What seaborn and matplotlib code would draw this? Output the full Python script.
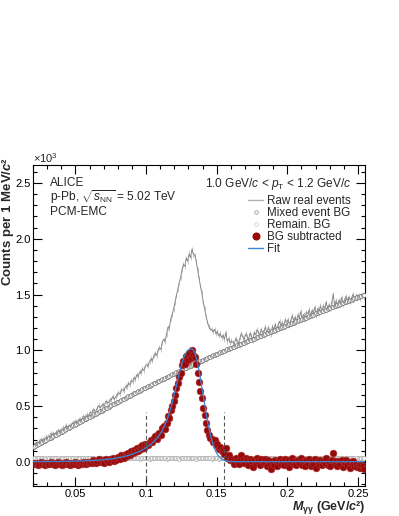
import numpy as np
import matplotlib
matplotlib.use("Agg")
import matplotlib.pyplot as plt
import seaborn as sns
from matplotlib.lines import Line2D
from matplotlib.ticker import MultipleLocator, FuncFormatter

# 1 MeV wide invariant-mass bins from 0.020 to 0.255 GeV/c^2
M_LO, BIN_W, N_BINS = 0.020, 0.001, 235
mass = M_LO + BIN_W * (np.arange(N_BINS) + 0.5)

# all yields in units of 10^3 counts per MeV/c^2
raw_counts = [
    0.159, 0.158, 0.177, 0.166, 0.183, 0.202, 0.194, 0.209, 0.197, 0.226,
    0.225, 0.224, 0.254, 0.243, 0.257, 0.249, 0.268, 0.282, 0.274, 0.287,
    0.279, 0.306, 0.305, 0.326, 0.312, 0.328, 0.317, 0.345, 0.343, 0.365,
    0.359, 0.357, 0.381, 0.383, 0.381, 0.411, 0.404, 0.404, 0.424, 0.421,
    0.444, 0.439, 0.469, 0.462, 0.455, 0.484, 0.505, 0.484, 0.502, 0.519,
    0.501, 0.544, 0.533, 0.530, 0.560, 0.557, 0.588, 0.562, 0.583, 0.603,
    0.619, 0.611, 0.647, 0.646, 0.639, 0.679, 0.672, 0.706, 0.691, 0.729,
    0.718, 0.757, 0.741, 0.782, 0.767, 0.808, 0.798, 0.836, 0.821, 0.860,
    0.871, 0.860, 0.900, 0.924, 0.907, 0.952, 0.975, 0.954, 1.003, 1.024,
    1.008, 1.074, 1.098, 1.082, 1.144, 1.208, 1.197, 1.281, 1.322, 1.368,
    1.429, 1.495, 1.546, 1.607, 1.653, 1.724, 1.770, 1.751, 1.827, 1.798,
    1.864, 1.830, 1.906, 1.862, 1.853, 1.798, 1.724, 1.645, 1.576, 1.517,
    1.428, 1.373, 1.304, 1.254, 1.210, 1.191, 1.186, 1.167, 1.187, 1.148,
    1.169, 1.129, 1.149, 1.115, 1.135, 1.100, 1.160, 1.081, 1.106, 1.066,
    1.086, 1.072, 1.052, 1.107, 1.082, 1.062, 1.112, 1.153, 1.118, 1.093,
    1.148, 1.128, 1.088, 1.153, 1.134, 1.089, 1.159, 1.139, 1.184, 1.164,
    1.134, 1.189, 1.159, 1.174, 1.210, 1.150, 1.205, 1.180, 1.140, 1.215,
    1.185, 1.235, 1.180, 1.230, 1.261, 1.216, 1.251, 1.216, 1.276, 1.251,
    1.276, 1.221, 1.271, 1.311, 1.267, 1.297, 1.262, 1.317, 1.292, 1.347,
    1.287, 1.322, 1.282, 1.342, 1.328, 1.363, 1.308, 1.358, 1.338, 1.388,
    1.313, 1.373, 1.353, 1.398, 1.353, 1.398, 1.383, 1.433, 1.378, 1.408,
    1.373, 1.433, 1.503, 1.408, 1.443, 1.403, 1.448, 1.433, 1.473, 1.413,
    1.453, 1.483, 1.443, 1.478, 1.433, 1.468, 1.503, 1.463, 1.488, 1.463,
    1.488, 1.463, 1.493, 1.488, 1.473,
]
mixed_bg = [
    0.138, 0.145, 0.152, 0.158, 0.165, 0.172, 0.179, 0.186, 0.192, 0.199,
    0.206, 0.213, 0.219, 0.226, 0.233, 0.240, 0.246, 0.253, 0.260, 0.267,
    0.273, 0.280, 0.287, 0.293, 0.300, 0.307, 0.314, 0.320, 0.327, 0.334,
    0.340, 0.347, 0.354, 0.361, 0.367, 0.374, 0.381, 0.387, 0.394, 0.401,
    0.407, 0.414, 0.421, 0.428, 0.434, 0.441, 0.448, 0.454, 0.461, 0.468,
    0.474, 0.481, 0.488, 0.495, 0.501, 0.508, 0.515, 0.521, 0.528, 0.535,
    0.541, 0.548, 0.554, 0.561, 0.568, 0.574, 0.581, 0.588, 0.594, 0.601,
    0.607, 0.614, 0.620, 0.627, 0.634, 0.640, 0.647, 0.653, 0.660, 0.667,
    0.673, 0.679, 0.685, 0.691, 0.698, 0.704, 0.710, 0.716, 0.722, 0.729,
    0.735, 0.741, 0.747, 0.753, 0.759, 0.765, 0.772, 0.778, 0.784, 0.790,
    0.796, 0.802, 0.808, 0.814, 0.820, 0.826, 0.832, 0.838, 0.844, 0.850,
    0.856, 0.862, 0.868, 0.874, 0.880, 0.885, 0.891, 0.897, 0.903, 0.909,
    0.915, 0.920, 0.926, 0.931, 0.937, 0.943, 0.948, 0.954, 0.959, 0.965,
    0.971, 0.976, 0.981, 0.987, 0.992, 0.997, 1.002, 1.008, 1.013, 1.018,
    1.023, 1.029, 1.034, 1.039, 1.044, 1.049, 1.054, 1.060, 1.065, 1.070,
    1.075, 1.080, 1.085, 1.090, 1.096, 1.101, 1.106, 1.111, 1.116, 1.121,
    1.126, 1.131, 1.136, 1.141, 1.147, 1.152, 1.157, 1.162, 1.167, 1.172,
    1.177, 1.182, 1.187, 1.192, 1.198, 1.203, 1.208, 1.213, 1.218, 1.223,
    1.228, 1.233, 1.238, 1.243, 1.249, 1.254, 1.259, 1.264, 1.269, 1.274,
    1.279, 1.284, 1.289, 1.294, 1.300, 1.305, 1.310, 1.315, 1.320, 1.325,
    1.330, 1.335, 1.340, 1.345, 1.350, 1.355, 1.360, 1.365, 1.370, 1.375,
    1.380, 1.385, 1.390, 1.395, 1.400, 1.405, 1.410, 1.415, 1.420, 1.425,
    1.430, 1.435, 1.440, 1.445, 1.450, 1.455, 1.460, 1.465, 1.470, 1.475,
    1.480, 1.485, 1.490, 1.495, 1.500,
]
remain_bg = [
    0.033, 0.034, 0.032, 0.033, 0.035, 0.033, 0.032, 0.034, 0.033, 0.031,
    0.034, 0.033, 0.032, 0.035, 0.033, 0.034, 0.032, 0.033, 0.031, 0.034,
    0.033, 0.035, 0.032, 0.033, 0.034, 0.031, 0.033, 0.034, 0.032, 0.033,
    0.032, 0.034, 0.033, 0.035, 0.032, 0.033, 0.034, 0.031, 0.033, 0.034,
    0.033, 0.032, 0.034, 0.033, 0.031, 0.035, 0.033, 0.032, 0.034, 0.033,
    0.034, 0.033, 0.035, 0.032, 0.033, 0.031, 0.034, 0.033, 0.032, 0.035,
    0.033, 0.031, 0.034, 0.032, 0.033, 0.035, 0.034, 0.033, 0.032, 0.033,
    0.035, 0.033, 0.032, 0.034, 0.033, 0.031, 0.033, 0.034, 0.033, 0.032,
    0.033, 0.034, 0.031, 0.033, 0.035, 0.032, 0.033, 0.034, 0.032, 0.033,
    0.032, 0.033, 0.034, 0.033, 0.031, 0.034, 0.035, 0.033, 0.032, 0.034,
    0.034, 0.032, 0.033, 0.031, 0.033, 0.034, 0.032, 0.035, 0.033, 0.033,
    0.033, 0.035, 0.034, 0.032, 0.033, 0.031, 0.034, 0.033, 0.032, 0.034,
    0.032, 0.033, 0.035, 0.033, 0.034, 0.032, 0.031, 0.033, 0.034, 0.033,
    0.034, 0.031, 0.033, 0.032, 0.035, 0.033, 0.034, 0.032, 0.033, 0.034,
    0.033, 0.034, 0.032, 0.033, 0.031, 0.034, 0.033, 0.035, 0.032, 0.033,
    0.031, 0.033, 0.034, 0.032, 0.033, 0.035, 0.033, 0.032, 0.034, 0.033,
    0.034, 0.032, 0.033, 0.035, 0.031, 0.033, 0.034, 0.033, 0.032, 0.034,
    0.033, 0.034, 0.031, 0.033, 0.032, 0.034, 0.035, 0.032, 0.033, 0.034,
    0.032, 0.033, 0.034, 0.031, 0.033, 0.035, 0.033, 0.032, 0.034, 0.033,
    0.035, 0.032, 0.033, 0.034, 0.033, 0.031, 0.034, 0.033, 0.032, 0.033,
    0.033, 0.034, 0.032, 0.033, 0.035, 0.032, 0.033, 0.031, 0.034, 0.033,
    0.034, 0.033, 0.032, 0.034, 0.031, 0.033, 0.035, 0.033, 0.032, 0.034,
    0.032, 0.033, 0.034, 0.033, 0.035, 0.032, 0.034, 0.033, 0.031, 0.033,
    0.034, 0.032, 0.033, 0.034, 0.033,
]
bg_subtracted = [
    -0.012, -0.020, -0.008, -0.025, -0.015, -0.003, -0.018, -0.010, -0.028, -0.006,
    -0.014, -0.022, 0.002, -0.016, -0.009, -0.024, -0.011, -0.004, -0.019, -0.013,
    -0.027, -0.007, -0.015, 0.000, -0.021, -0.012, -0.030, -0.008, -0.017, -0.002,
    -0.014, -0.023, -0.006, -0.011, -0.019, 0.004, -0.010, -0.016, -0.003, -0.013,
    0.004, -0.008, 0.015, 0.001, -0.012, 0.010, 0.024, -0.003, 0.008, 0.018,
    -0.006, 0.030, 0.012, 0.002, 0.026, 0.016, 0.040, 0.008, 0.022, 0.035,
    0.045, 0.030, 0.060, 0.052, 0.038, 0.072, 0.058, 0.085, 0.064, 0.095,
    0.078, 0.110, 0.088, 0.122, 0.100, 0.135, 0.118, 0.150, 0.128, 0.160,
    0.165, 0.148, 0.182, 0.200, 0.176, 0.215, 0.232, 0.205, 0.248, 0.262,
    0.240, 0.300, 0.318, 0.296, 0.352, 0.410, 0.392, 0.470, 0.505, 0.545,
    0.600, 0.660, 0.705, 0.760, 0.800, 0.865, 0.905, 0.880, 0.950, 0.915,
    0.975, 0.935, 1.005, 0.955, 0.940, 0.880, 0.800, 0.715, 0.640, 0.575,
    0.480, 0.420, 0.345, 0.290, 0.240, 0.215, 0.205, 0.180, 0.195, 0.150,
    0.165, 0.120, 0.135, 0.095, 0.110, 0.070, 0.125, 0.040, 0.060, 0.015,
    0.030, 0.010, -0.015, 0.035, 0.005, -0.020, 0.025, 0.060, 0.020, -0.010,
    0.040, 0.015, -0.030, 0.030, 0.005, -0.045, 0.020, -0.005, 0.035, 0.010,
    -0.025, 0.025, -0.010, 0.000, 0.030, -0.035, 0.015, -0.015, -0.060, 0.010,
    -0.025, 0.020, -0.040, 0.005, 0.030, -0.020, 0.010, -0.030, 0.025, -0.005,
    0.015, -0.045, 0.000, 0.035, -0.015, 0.010, -0.030, 0.020, -0.010, 0.040,
    -0.025, 0.005, -0.040, 0.015, -0.005, 0.025, -0.035, 0.010, -0.015, 0.030,
    -0.050, 0.005, -0.020, 0.020, -0.030, 0.010, -0.010, 0.035, -0.025, 0.000,
    -0.040, 0.015, 0.080, -0.020, 0.010, -0.035, 0.005, -0.015, 0.020, -0.045,
    -0.010, 0.015, -0.030, 0.000, -0.050, -0.020, 0.010, -0.035, -0.015, -0.045,
    -0.025, -0.055, -0.030, -0.040, -0.060,
]
fit_curve = [
    0.004, 0.004, 0.004, 0.004, 0.004, 0.004, 0.004, 0.004, 0.004, 0.004,
    0.005, 0.005, 0.005, 0.005, 0.005, 0.005, 0.005, 0.005, 0.005, 0.006,
    0.006, 0.006, 0.006, 0.006, 0.006, 0.007, 0.007, 0.007, 0.008, 0.008,
    0.008, 0.009, 0.009, 0.009, 0.010, 0.010, 0.011, 0.011, 0.012, 0.012,
    0.013, 0.013, 0.014, 0.015, 0.016, 0.016, 0.017, 0.018, 0.019, 0.020,
    0.022, 0.023, 0.024, 0.026, 0.027, 0.029, 0.030, 0.032, 0.034, 0.036,
    0.038, 0.041, 0.043, 0.046, 0.049, 0.052, 0.055, 0.058, 0.062, 0.066,
    0.070, 0.075, 0.080, 0.085, 0.090, 0.096, 0.102, 0.109, 0.116, 0.123,
    0.131, 0.140, 0.149, 0.159, 0.170, 0.182, 0.195, 0.209, 0.224, 0.241,
    0.260, 0.282, 0.306, 0.334, 0.364, 0.399, 0.438, 0.481, 0.528, 0.578,
    0.630, 0.685, 0.740, 0.793, 0.843, 0.889, 0.928, 0.960, 0.984, 1.000,
    1.009, 1.012, 1.013, 1.005, 0.979, 0.939, 0.886, 0.821, 0.749, 0.671,
    0.592, 0.513, 0.438, 0.367, 0.303, 0.246, 0.196, 0.155, 0.120, 0.091,
    0.069, 0.051, 0.038, 0.028, 0.020, 0.015, 0.011, 0.008, 0.006, 0.005,
    0.004, 0.004, 0.003, 0.003, 0.003, 0.003, 0.003, 0.003, 0.003, 0.003,
] + [0.003] * 85

RAW_ERR = 0.022      # stat. error of the raw distribution
REMAIN_ERR = 0.010
INT_WINDOW = [0.100, 0.155]   # integration window (dashed lines)
WINDOW_TOP = 0.45

W, H = 399, 516
sns.set_theme(style="ticks")
plt.rcParams["font.family"] = ["Liberation Sans", "DejaVu Sans"]
plt.rcParams["mathtext.fontset"] = "custom"
plt.rcParams["mathtext.rm"] = "Liberation Sans"
plt.rcParams["mathtext.it"] = "Liberation Sans:italic"
plt.rcParams["mathtext.bf"] = "Liberation Sans:bold"
try:
    plt.rcParams["mathtext.bfit"] = "Liberation Sans:bold:italic"
    BFIT = True
except KeyError:
    BFIT = False


def fpos(x, y):
    return x / W, 1 - y / H


fig = plt.figure(figsize=(W / 100, H / 100), dpi=100)
ax = fig.add_axes([33 / W, 30 / H, 332 / W, 321 / H])

gray_raw = "#8a8a8a"
ax.errorbar(mass, raw_counts, yerr=RAW_ERR, fmt="none", ecolor="#c4c4c4",
            elinewidth=0.7, zorder=1)
sns.lineplot(x=mass, y=raw_counts, color=gray_raw, lw=0.7, ax=ax,
             estimator=None, sort=False, zorder=2)

ax.errorbar(mass, remain_bg, yerr=REMAIN_ERR, fmt="none", ecolor="#cfcfcf",
            elinewidth=0.8, zorder=2)
ax.plot(mass, remain_bg, ls="none", marker="o", ms=2.8, mfc="white",
        mec="#acacac", mew=0.5, zorder=3)
ax.plot(mass, mixed_bg, ls="none", marker="o", ms=2.8, mfc="white",
        mec="#747474", mew=0.5, zorder=3)

sns.scatterplot(x=mass, y=bg_subtracted, color="#970808", s=24,
                edgecolor="#b03535", linewidth=0.4, ax=ax, zorder=4)
sns.lineplot(x=mass, y=fit_curve, color="#3a86d8", lw=0.9, ax=ax,
             estimator=None, sort=False, zorder=5)

for xv in INT_WINDOW:
    ax.plot([xv, xv], [-0.215, WINDOW_TOP], color="#555555", lw=0.8,
            ls=(0, (3.5, 2.5)), zorder=6)

ax.set_xlim(0.020, 0.255)
ax.set_ylim(-0.215, 2.66)
ax.xaxis.set_major_locator(MultipleLocator(0.05))
ax.xaxis.set_minor_locator(MultipleLocator(0.01))
ax.yaxis.set_major_locator(MultipleLocator(0.5))
ax.yaxis.set_minor_locator(MultipleLocator(0.1))
ax.xaxis.set_major_formatter(FuncFormatter(lambda v, p: f"{v:g}"))
ax.yaxis.set_major_formatter(FuncFormatter(lambda v, p: f"{v:.1f}"))
ax.tick_params(which="both", direction="in", top=True, right=True,
               color="black", width=0.8, labelsize=8.0, labelcolor="black")
ax.tick_params(which="major", length=6.2)
ax.tick_params(which="minor", length=3.2)
ax.tick_params(axis="x", which="major", pad=2.5)
ax.tick_params(axis="y", which="major", pad=1.5)
for sp in ax.spines.values():
    sp.set_visible(True)
    sp.set_color("black")
    sp.set_linewidth(0.8)
ax.set_xlabel("")
ax.set_ylabel("")

if BFIT:
    ylab = "Counts per 1 MeV/" + r"$\mathbfit{c}$" + "\u00b2"
    xlab = r"$\mathbfit{M}_{\mathbf{\gamma\gamma}}$ (GeV/$\mathbfit{c}$" + "\u00b2)"
else:
    ylab = "Counts per 1 MeV/" + r"$c$" + "\u00b2"
    xlab = r"$M_{\gamma\gamma}$ (GeV/$c$" + "\u00b2)"
fig.text(*fpos(8, 157), ylab, rotation=90, ha="center", va="top",
         fontsize=9.5, fontweight="bold")
fig.text(*fpos(365, 507.5), xlab, ha="right", va="center", fontsize=9,
         fontweight="bold")
fig.text(*fpos(33, 158), r"$\times$10$^{3}$", ha="left", va="center",
         fontsize=8)

txt = dict(fontsize=8.6, va="center")
fig.text(*fpos(50, 182.5), "ALICE", ha="left", **txt)
fig.text(*fpos(50, 197.5), r"p-Pb, $\sqrt{s_{\mathrm{NN}}}$ = 5.02 TeV", ha="left", **txt)
fig.text(*fpos(50, 212), "PCM-EMC", ha="left", **txt)
fig.text(*fpos(352, 184), r"1.0 GeV/$c$ < $p_{\mathrm{T}}$ < 1.2 GeV/$c$",
         ha="right", **txt)

handles = [
    Line2D([], [], color="#b0b0b0", lw=1.0),
    Line2D([], [], ls="none", marker="o", ms=2.6, mfc="white", mec="#8a8a8a", mew=0.5),
    Line2D([], [], ls="none", marker="o", ms=2.6, mfc="white", mec="#c8c8c8", mew=0.5),
    Line2D([], [], ls="none", marker="o", ms=4.8, mfc="#970808", mec="#970808"),
    Line2D([], [], color="#3a86d8", lw=1.0),
]
labels = ["Raw real events", "Mixed event BG", "Remain. BG", "BG subtracted", "Fit"]
ax.legend(handles, labels, loc="upper left", bbox_to_anchor=(0.648, 0.905),
          frameon=False, fontsize=8.4, handlelength=1.3, handletextpad=0.35,
          labelspacing=0.0, borderpad=0, borderaxespad=0)

fig.savefig("out.png", dpi=100)
